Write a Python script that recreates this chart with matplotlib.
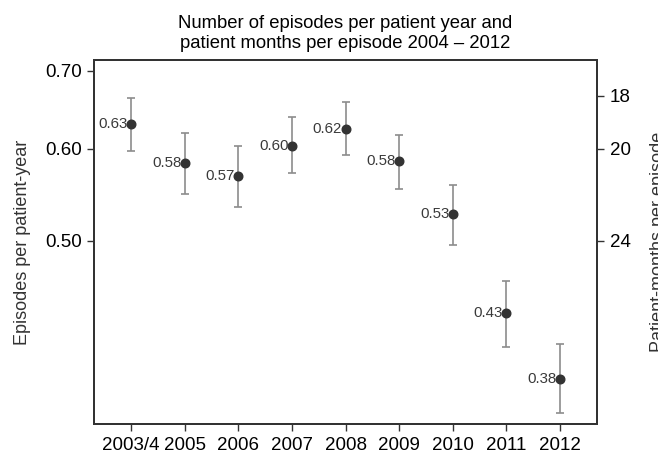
import matplotlib
matplotlib.use("Agg")
import matplotlib.pyplot as plt
from matplotlib.ticker import FixedLocator, NullLocator
import numpy as np

plt.rcParams['font.family'] = ['Liberation Sans', 'DejaVu Sans']

years = ["2003/4", "2005", "2006", "2007", "2008", "2009", "2010", "2011", "2012"]
rate = [0.630, 0.583, 0.568, 0.603, 0.624, 0.585, 0.527, 0.433, 0.380]
ci_low = [0.597, 0.549, 0.535, 0.572, 0.592, 0.554, 0.496, 0.405, 0.355]
ci_high = [0.663, 0.619, 0.603, 0.639, 0.658, 0.617, 0.558, 0.462, 0.407]
left_ticks = [0.50, 0.60, 0.70]
months_ticks = [18, 20, 24]

x = np.arange(len(years))
rate = np.array(rate)
err = np.array([rate - np.array(ci_low), np.array(ci_high) - rate])

fig = plt.figure(figsize=(6.58, 4.57), dpi=100)
ax = fig.add_axes([0.1429, 0.0722, 0.7644, 0.7965])

ax.errorbar(x, rate, yerr=err, fmt='none', ecolor='#8c8c8c', elinewidth=1.2,
            capsize=3.2, capthick=1.2, zorder=2)
ax.plot(x, rate, 'o', color='#333333', markersize=6.2, zorder=3)
for xi, r in zip(x, rate):
    ax.annotate(f"{r:.2f}", (xi, r), xytext=(-2.5, 0), textcoords='offset points',
                ha='right', va='center', fontsize=10.8, color='#3a3a3a')

ax.set_yscale('log')
ax.set_ylim(0.3476, 0.7154)
ax.set_xlim(-0.69, len(years) - 1 + 0.69)
ax.yaxis.set_major_locator(FixedLocator(left_ticks))
ax.yaxis.set_minor_locator(NullLocator())
ax.set_yticklabels([f"{t:.2f}" for t in left_ticks])
ax.set_xticks(x)
ax.set_xticklabels(years)
ax.tick_params(labelsize=13.5, length=5, width=1, color='#333333', pad=4)
ax.set_ylabel("Episodes per patient-year", fontsize=13, color='#333333', labelpad=10)

for s in ax.spines.values():
    s.set_color('#333333')
    s.set_linewidth(1.4)

# right axis: months per episode = 12 / episodes per year
ax2 = ax.twinx()
ax2.set_yscale('log')
ax2.set_ylim(ax.get_ylim())
ax2.yaxis.set_major_locator(FixedLocator([12 / m for m in months_ticks]))
ax2.yaxis.set_minor_locator(NullLocator())
ax2.set_yticklabels([str(m) for m in months_ticks])
ax2.tick_params(labelsize=13.5, length=5, width=1, color='#333333', pad=4)
ax2.set_ylabel("Patient-months per episode", fontsize=13, color='#333333', labelpad=14)
for s in ax2.spines.values():
    s.set_color('#333333')
    s.set_linewidth(1.4)

ax.set_title("Number of episodes per patient year and\npatient months per episode 2004 \u2013 2012",
             fontsize=13.3, pad=9)

fig.savefig("out.png", dpi=100)
